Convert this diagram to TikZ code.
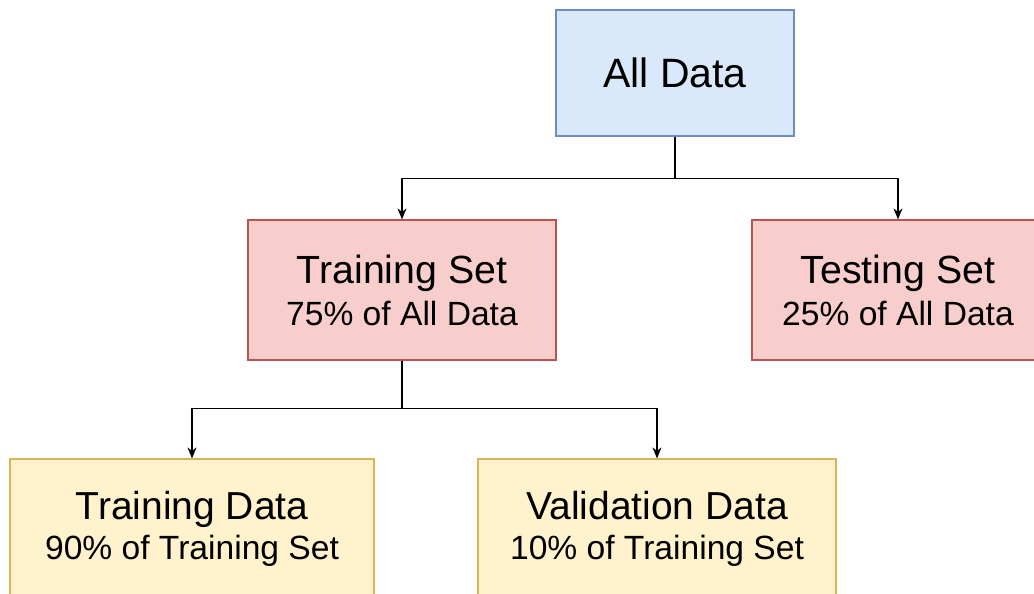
\documentclass[tikz,border=0pt]{standalone}
\usepackage{fontspec}
\setmainfont{Liberation Sans}
\usetikzlibrary{arrows.meta}
\definecolor{blueFill}{HTML}{DAE8FC}
\definecolor{blueLine}{HTML}{6C8EBF}
\definecolor{redFill}{HTML}{F8CECC}
\definecolor{redLine}{HTML}{B85450}
\definecolor{yellowFill}{HTML}{FFF2CC}
\definecolor{yellowLine}{HTML}{D6B656}

\begin{document}
\begin{tikzpicture}[
    x=1pt, y=-1pt,
    box/.style={rectangle, draw, line width=1.2pt, align=center, inner sep=0pt},
    all box/.style={box, fill=blueFill, draw=blueLine, minimum width=238pt, minimum height=126pt,
        font=\fontsize{41}{48}\selectfont},
    set box/.style={box, fill=redFill, draw=redLine, minimum height=140pt,
        font=\fontsize{39.3}{42}\selectfont},
    part box/.style={box, fill=yellowFill, draw=yellowLine, minimum height=140pt,
        font=\fontsize{39}{40}\selectfont},
    link/.style={line width=1.3pt, -{Stealth[length=11pt, width=9pt]}}
]
   \clip (0,0) rectangle (1034,594);

   % Boxes
   \node[all box] (all) at (675,73) {All Data};
   \node[set box, minimum width=308pt] (train) at (402,290)
       {Training Set\\{\fontsize{33.6}{42}\selectfont 75\% of All Data}};
   \node[set box, minimum width=292pt] (test) at (898,290)
       {Testing Set\\{\fontsize{33.6}{42}\selectfont 25\% of All Data}};
   \node[part box, minimum width=364pt] (tdata) at (192,529)
       {Training Data\\{\fontsize{33.6}{40}\selectfont 90\% of Training Set}};
   \node[part box, minimum width=358pt] (vdata) at (657,529)
       {Validation Data\\{\fontsize{33.6}{40}\selectfont 10\% of Training Set}};

   % Splits
   \draw[link] (all.south) -- ++(0,42) -| (train.north);
   \draw[link] (all.south) -- ++(0,42) -| (test.north);
   \draw[link] (train.south) -- ++(0,48) -| (tdata.north);
   \draw[link] (train.south) -- ++(0,48) -| (vdata.north);

\end{tikzpicture}
\end{document}
